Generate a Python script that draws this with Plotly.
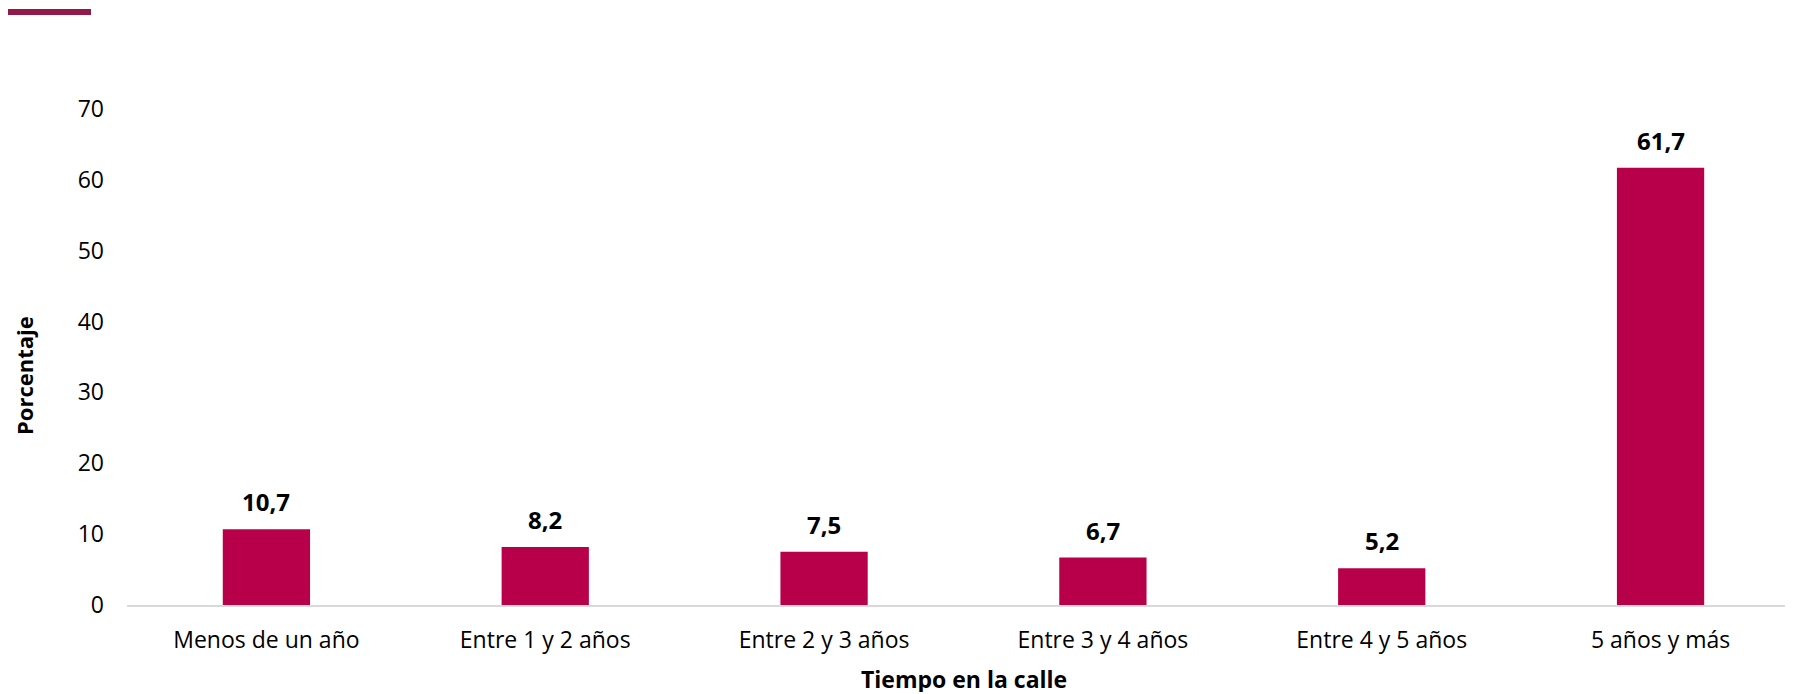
import plotly.graph_objects as go

categorias = ["Menos de un año", "Entre 1 y 2 años", "Entre 2 y 3 años",
              "Entre 3 y 4 años", "Entre 4 y 5 años", "5 años y más"]
porcentajes = [10.7, 8.2, 7.5, 6.7, 5.2, 61.7]
etiquetas = [f"{v:.1f}".replace(".", ",") for v in porcentajes]
ticks_y = [0, 10, 20, 30, 40, 50, 60, 70]

# la pagina deja 8px de margen alrededor del grafico
W, H = 1785, 686
ML, MR, MT, MB = 119, 0, 101, 89
pw, ph = W - ML - MR, H - MT - MB
base = H - MB

fig = go.Figure()
fig.add_trace(go.Bar(x=categorias, y=porcentajes, marker_color="#b8004a",
                     marker_line_width=0, hoverinfo="x+y"))

anots = []
for c, v, t in zip(categorias, porcentajes, etiquetas):
    anots.append(dict(x=c, y=v, text=f"<b>{t}</b>", showarrow=False,
                      yanchor="bottom", yshift=9,
                      font=dict(size=24, color="#000000", family="Open Sans")))

# titulos de ejes
anots.append(dict(text="<b>Porcentaje</b>", xref="paper", yref="paper",
                  x=(16 - ML) / pw, y=(base - 368) / ph, textangle=-90,
                  xanchor="center", yanchor="middle",
                  showarrow=False, font=dict(size=22, color="#000000")))
anots.append(dict(text="<b>Tiempo en la calle</b>", xref="paper", yref="paper",
                  x=(956 - ML) / pw, y=(base - 671) / ph, height=26,
                  xanchor="center", yanchor="middle", showarrow=False,
                  font=dict(size=23, color="#000000")))

fig.update_layout(
    width=W, height=H,
    margin=dict(l=ML, r=MR, t=MT, b=MB),
    paper_bgcolor="white", plot_bgcolor="white",
    font=dict(family="Open Sans", size=23, color="#000000"),
    bargap=0.687,
    showlegend=False,
    annotations=anots,
    shapes=[dict(type="line", xref="paper", yref="paper",
                 x0=(0 - ML) / pw, x1=(83 - ML) / pw,
                 y0=(base - 4) / ph, y1=(base - 4) / ph,
                 line=dict(color="#931a48", width=6))],
)
fig.update_xaxes(showline=True, linecolor="#d9d9d9", linewidth=2,
                 range=[-0.5, 5.475],
                 showgrid=False, ticks="", ticklabelstandoff=13,
                 tickfont=dict(size=23))
fig.update_yaxes(range=[0, 70], tickvals=ticks_y, showgrid=False,
                 zeroline=False, showline=False, ticks="",
                 ticklabelstandoff=22, tickfont=dict(size=23))

fig.write_html("out.html")
